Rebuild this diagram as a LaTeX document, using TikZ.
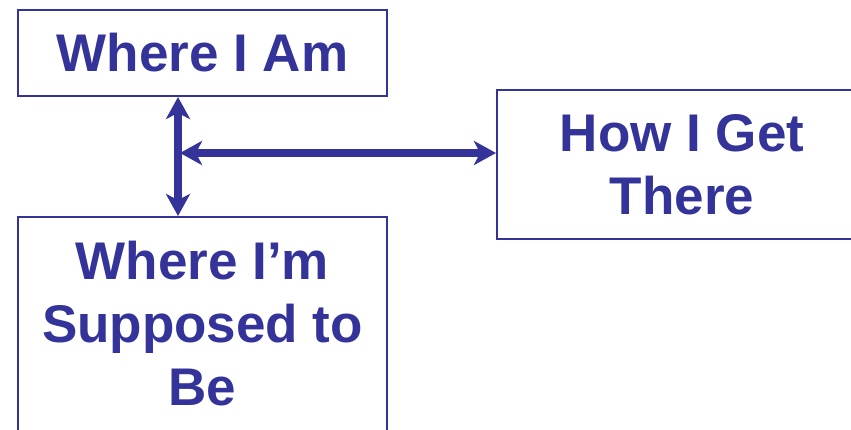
\documentclass[tikz,border=0pt]{standalone}
\usepackage{fontspec}
\setmainfont{Liberation Sans}
\usetikzlibrary{arrows.meta}
\definecolor{navy}{RGB}{51,51,153}
\begin{document}
\begin{tikzpicture}[x=1pt,y=-1pt,
  box/.style={draw=navy,line width=2pt,fill=white,text=navy,font=\fontsize{53}{63}\selectfont\bfseries,align=center,inner sep=0pt,anchor=center},
  arr/.style={draw=navy,line width=7.5pt,{Stealth[length=22pt,width=24pt,inset=6pt]}-{Stealth[length=22pt,width=24pt,inset=6pt]}}]
\useasboundingbox (0,0) rectangle (851,429);
\clip (0,0) rectangle (851,429);
\node[box,minimum width=369pt,minimum height=86pt] (b1) at (202.5,53) {Where I Am};
\node[box,minimum width=370pt,minimum height=149pt] (b2) at (682,164.5) {How I Get\\There};
\node[box,minimum width=369pt,minimum height=214pt] (b3) at (202.5,324) {Where I’m\\Supposed to\\Be};
\coordinate (vx) at (178,0);
\coordinate (hy) at (180,153);
\draw[arr] (b1.south -| vx) -- (b3.north -| vx);
\draw[arr] (hy) -- (hy -| b2.west);
\end{tikzpicture}
\end{document}
